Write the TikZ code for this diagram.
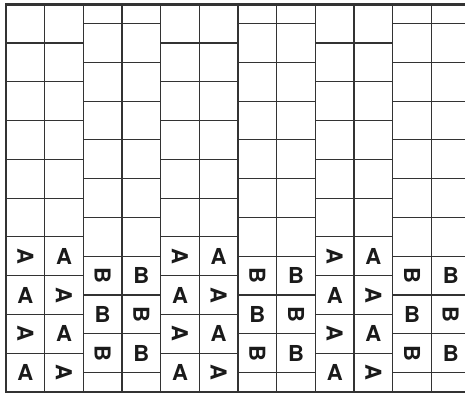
\documentclass[tikz,border=0pt]{standalone}
\usepackage{fontspec}
\setmainfont{TeX Gyre Heros}
\definecolor{gridc}{HTML}{333333}
\definecolor{letc}{HTML}{1A1A1A}
\begin{document}
\begin{tikzpicture}[x=1pt,y=-1pt,
  gridline/.style={draw=gridc,line width=1.1pt},
  frameline/.style={draw=gridc,line width=2.6pt},
  letter/.style={text=letc,font=\bfseries\fontsize{22}{22}\selectfont,inner sep=0pt,anchor=center},
  turned/.style={letter,rotate=-90}]
\useasboundingbox (0,0) rectangle (465,394);
\fill[white] (0,0) rectangle (465,394);
\def\sx{38.67}
\def\sy{38.77}
\def\xo{6}
\def\yo{4.2}
% vertical lines
\foreach \k in {1,...,11}
  \draw[gridline] ({\xo+\k*\sx},\yo) -- ({\xo+\k*\sx},{\yo+10*\sy});
% A groups: horizontal lines aligned
\foreach \g in {0,4,8}
  \foreach \j in {1,...,9}
    \draw[gridline] ({\xo+\g*\sx},{\yo+\j*\sy}) -- ({\xo+(\g+2)*\sx},{\yo+\j*\sy});
% B groups: offset horizontal lines
\foreach \g in {2,6,10}
  \foreach \j in {0,...,9}
    \draw[gridline] ({\xo+\g*\sx},{\yo+(\j+0.5)*\sy}) -- ({min(\xo+(\g+2)*\sx,465)},{\yo+(\j+0.5)*\sy});
% frame
\draw[frameline] (465,\yo) -- (\xo,\yo) -- (\xo,{\yo+10*\sy}) -- (465,{\yo+10*\sy});
% A letters
\foreach \g/\n in {0/1,4/2,8/3}{
  \foreach \r in {6,8}{
    \node[turned] (A\n-\r-a) at ({\xo+(\g+0.5)*\sx},{\yo+(\r+0.5)*\sy}) {A};
    \node[letter] (A\n-\r-b) at ({\xo+(\g+1.5)*\sx},{\yo+(\r+0.5)*\sy}) {A};
  }
  \foreach \r in {7,9}{
    \node[letter] (A\n-\r-a) at ({\xo+(\g+0.5)*\sx},{\yo+(\r+0.5)*\sy}) {A};
    \node[turned] (A\n-\r-b) at ({\xo+(\g+1.5)*\sx},{\yo+(\r+0.5)*\sy}) {A};
  }
}
% B letters
\foreach \g/\n in {2/1,6/2,10/3}{
  \foreach \r in {7,9}{
    \node[turned] (B\n-\r-a) at ({\xo+(\g+0.5)*\sx},{\yo+\r*\sy}) {B};
    \node[letter] (B\n-\r-b) at ({\xo+(\g+1.5)*\sx},{\yo+\r*\sy}) {B};
  }
  \node[letter] (B\n-8-a) at ({\xo+(\g+0.5)*\sx},{\yo+8*\sy}) {B};
  \node[turned] (B\n-8-b) at ({\xo+(\g+1.5)*\sx},{\yo+8*\sy}) {B};
}
\end{tikzpicture}
\end{document}
